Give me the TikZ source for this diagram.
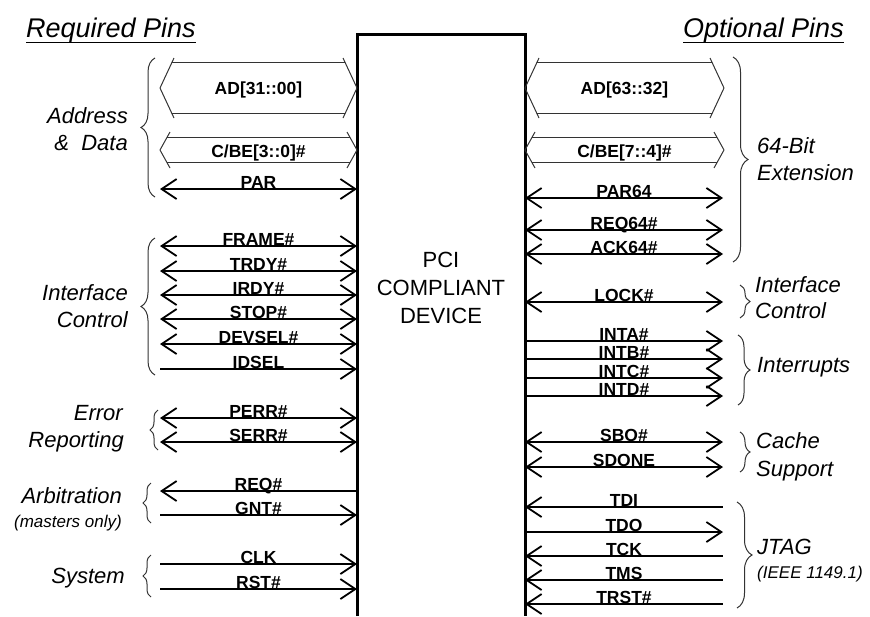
\documentclass[tikz,border=0pt]{standalone}
\usepackage{fontspec}
\setmainfont{Liberation Sans}
\usetikzlibrary{arrows.meta,decorations.pathreplacing}
\begin{document}
\begin{tikzpicture}[x=1pt,y=-1pt,
  >={Straight Barb[length=15pt,width=20pt,line width=1.8pt]},
  sig/.style={line width=1.4pt},
  twoway/.style={<->}, fwd/.style={->}, back/.style={<-},
  siglbl/.style={font=\bfseries\fontsize{17.5}{17.5}\selectfont, inner sep=0pt, anchor=base},
  grp/.style={font=\itshape\fontsize{22}{22}\selectfont, inner sep=0pt},
  note/.style={font=\itshape\fontsize{17}{17}\selectfont, inner sep=0pt},
  bus/.style={line width=1pt, draw=black!80, line join=round},
  brc/.style={decorate, decoration={brace, amplitude=#1}, line width=1pt, draw=black!80},
  ttl/.style={font=\itshape\fontsize{27}{27}\selectfont, inner sep=0pt, anchor=base west},
  dev/.style={font=\fontsize{22}{22}\selectfont, inner sep=0pt, anchor=base},
]
\useasboundingbox (0,0) rectangle (870,616);

% titles
\node[ttl] (req) at (26,37) {Required Pins};
\draw[line width=1pt] ([yshift=-5pt]req.base west) -- ([yshift=-5pt]req.base east);
\node[ttl] (opt) at (683,37) {Optional Pins};
\draw[line width=1pt] ([yshift=-5pt]opt.base west) -- ([yshift=-5pt]opt.base east);

% device box
\coordinate (bx-bl) at (357,616);
\coordinate (bx-tl) at (357,34);
\coordinate (bx-tr) at (525,34);
\coordinate (bx-br) at (525,616);
\draw[line width=3pt, line join=miter] (bx-bl) -- (bx-tl) -- (bx-tr) -- (bx-br);
\node[dev] (pci) at (441,267) {PCI};
\node[dev] (compl) at (441,295) {COMPLIANT};
\node[dev] (devc) at (441,323) {DEVICE};

% ---- buses ----
% left AD
\coordinate (adl-o) at (160,88); \coordinate (adl-b) at (357,88);
\draw[bus] (adl-o) ++(14,-30) -- (adl-o) -- ++(14,30);
\draw[bus] (adl-b) ++(-14,-30) -- (adl-b) -- ++(-14,30);
\draw[bus] ([shift={(12,-26)}]adl-o) -- ([shift={(-12,-26)}]adl-b);
\draw[bus] ([shift={(12,25)}]adl-o) -- ([shift={(-12,25)}]adl-b);
\path (adl-o) -- node[siglbl, yshift=-6pt] (adl-t) {AD[31::00]} (adl-b);
% left C/BE
\coordinate (cbl-o) at (160,150); \coordinate (cbl-b) at (357,150);
\draw[bus] (cbl-o) ++(10,-18) -- (cbl-o) -- ++(10,18);
\draw[bus] (cbl-b) ++(-10,-18) -- (cbl-b) -- ++(-10,18);
\draw[bus] ([shift={(7,-12.5)}]cbl-o) -- ([shift={(-7,-12.5)}]cbl-b);
\draw[bus] ([shift={(7,12.5)}]cbl-o) -- ([shift={(-7,12.5)}]cbl-b);
\path (cbl-o) -- node[siglbl, yshift=-7pt] (cbl-t) {C/BE[3::0]\#} (cbl-b);
% right AD
\coordinate (adr-b) at (525,88); \coordinate (adr-o) at (724,88);
\draw[bus] (adr-b) ++(14,-30) -- (adr-b) -- ++(14,30);
\draw[bus] (adr-o) ++(-14,-30) -- (adr-o) -- ++(-14,30);
\draw[bus] ([shift={(12,-26)}]adr-b) -- ([shift={(-12,-26)}]adr-o);
\draw[bus] ([shift={(12,25)}]adr-b) -- ([shift={(-12,25)}]adr-o);
\path (adr-b) -- node[siglbl, yshift=-6pt] (adr-t) {AD[63::32]} (adr-o);
% right C/BE
\coordinate (cbr-b) at (525,150); \coordinate (cbr-o) at (724,150);
\draw[bus] (cbr-b) ++(10,-18) -- (cbr-b) -- ++(10,18);
\draw[bus] (cbr-o) ++(-10,-18) -- (cbr-o) -- ++(-10,18);
\draw[bus] ([shift={(7,-12.5)}]cbr-b) -- ([shift={(-7,-12.5)}]cbr-o);
\draw[bus] ([shift={(7,12.5)}]cbr-b) -- ([shift={(-7,12.5)}]cbr-o);
\path (cbr-b) -- node[siglbl, yshift=-7pt] (cbr-t) {C/BE[7::4]\#} (cbr-o);

% ---- left signals ----
\foreach \n/\y/\t/\d in {
  par/189/PAR/twoway, frame/246/FRAME\#/twoway, trdy/271/TRDY\#/twoway,
  irdy/295/IRDY\#/twoway, stop/319/STOP\#/twoway, devsel/344/DEVSEL\#/twoway,
  idsel/369/IDSEL/fwd, perr/418/PERR\#/twoway, serr/442/SERR\#/twoway,
  req/491/REQ\#/back, gnt/515/GNT\#/fwd, clk/564/CLK/fwd, rst/589/RST\#/fwd}{
  \coordinate (\n-o) at (160,\y);
  \coordinate (\n-b) at (357,\y);
  \draw[sig,\d] (\n-o) -- node[siglbl, yshift=0.5pt] (\n-t) {\t} (\n-b);
}

% ---- right signals ----
\foreach \n/\y/\t/\d in {
  par64/198/PAR64/twoway, req64/230/REQ64\#/twoway, ack64/254/ACK64\#/twoway,
  lock/302/LOCK\#/twoway, inta/341/INTA\#/fwd, intb/359/INTB\#/fwd,
  intc/378/INTC\#/fwd, intd/396/INTD\#/fwd, sbo/442/SBO\#/twoway,
  sdone/467/SDONE/twoway, tdi/507/TDI/back, tdo/532/TDO/fwd,
  tck/556/TCK/back, tms/580/TMS/back, trst/604/TRST\#/back}{
  \coordinate (\n-b) at (525,\y);
  \coordinate (\n-o) at (723,\y);
  \draw[sig,\d] (\n-b) -- node[siglbl, yshift=0.5pt] (\n-t) {\t} (\n-o);
}

% ---- braces left ----
\coordinate (bA-b) at (155,197); \coordinate (bA-t) at (155,58);
\draw[brc=14] (bA-b) -- (bA-t);
\coordinate (bI-b) at (155,375); \coordinate (bI-t) at (155,238);
\draw[brc=14] (bI-b) -- (bI-t);
\coordinate (bE-b) at (158,450); \coordinate (bE-t) at (158,410);
\draw[brc=8] (bE-b) -- (bE-t);
\coordinate (bR-b) at (151,523); \coordinate (bR-t) at (151,483);
\draw[brc=8] (bR-b) -- (bR-t);
\coordinate (bS-b) at (151,597); \coordinate (bS-t) at (151,555);
\draw[brc=8] (bS-b) -- (bS-t);

% ---- braces right ----
\coordinate (b64-t) at (733,57); \coordinate (b64-b) at (733,262);
\draw[brc=15] (b64-t) -- (b64-b);
\coordinate (bIC-t) at (740,285); \coordinate (bIC-b) at (740,318);
\draw[brc=10] (bIC-t) -- (bIC-b);
\coordinate (bIn-t) at (738,335); \coordinate (bIn-b) at (738,405);
\draw[brc=12] (bIn-t) -- (bIn-b);
\coordinate (bC-t) at (740,432); \coordinate (bC-b) at (740,472);
\draw[brc=10] (bC-t) -- (bC-b);
\coordinate (bJ-t) at (737,502); \coordinate (bJ-b) at (737,608);
\draw[brc=15] (bJ-t) -- (bJ-b);

% ---- group labels left ----
\node[grp, anchor=base east] (g-addr) at (128,123) {Address};
\node[grp, anchor=base east] (g-data) at (128,150) {\&\ \ Data};
\node[grp, anchor=base east] (g-if1) at (128,300) {Interface};
\node[grp, anchor=base east] (g-if2) at (128,327) {Control};
\node[grp, anchor=base east] (g-err) at (123,420) {Error};
\node[grp, anchor=base east] (g-rep) at (124,447) {Reporting};
\node[grp, anchor=base east] (g-arb) at (122,503) {Arbitration};
\node[note, anchor=base east] (g-mst) at (122,527) {(masters only)};
\node[grp, anchor=base east] (g-sys) at (125,583) {System};

% ---- group labels right ----
\node[grp, anchor=base west] (g-64) at (757,153) {64-Bit};
\node[grp, anchor=base west] (g-ext) at (757,180) {Extension};
\node[grp, anchor=base west] (g-ric1) at (755,292) {Interface};
\node[grp, anchor=base west] (g-ric2) at (755,318) {Control};
\node[grp, anchor=base west] (g-int) at (757,372) {Interrupts};
\node[grp, anchor=base west] (g-cache) at (756,448) {Cache};
\node[grp, anchor=base west] (g-sup) at (756,476) {Support};
\node[grp, anchor=base west] (g-jtag) at (757,554) {JTAG};
\node[note, anchor=base west] (g-ieee) at (757,578) {(IEEE 1149.1)};
\end{tikzpicture}
\end{document}
